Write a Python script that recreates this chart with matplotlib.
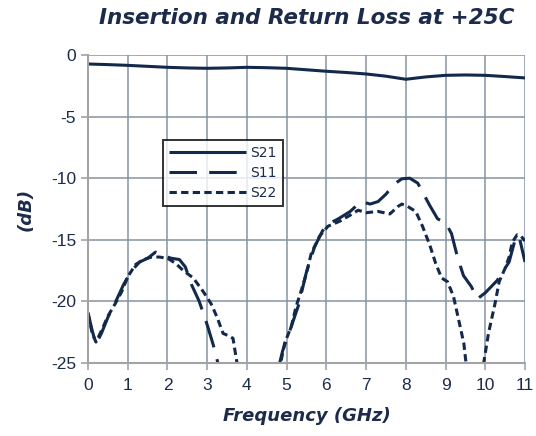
import matplotlib.pyplot as plt
from matplotlib.ticker import MultipleLocator

plt.rcParams['axes.unicode_minus'] = False

navy = '#13294b'
text_c = '#1c2b4a'
grid_c = '#8593a3'
spine_c = '#a3a3a3'

# S21 insertion loss
s21_f = [0, 0.5, 1, 1.5, 2, 2.5, 3, 3.5, 4, 4.5, 5, 5.5, 6, 6.5, 7, 7.5, 8, 8.5, 9, 9.5, 10, 10.5, 11]
s21_db = [-0.73, -0.78, -0.84, -0.92, -1.0, -1.05, -1.08, -1.05, -1.0, -1.03, -1.08, -1.2, -1.32,
          -1.42, -1.54, -1.72, -1.97, -1.78, -1.65, -1.62, -1.65, -1.75, -1.86]

# S11 input return loss
s11_f = [0, 0.1, 0.2, 0.35, 0.5, 0.7, 0.9, 1.1, 1.3, 1.5, 1.7, 1.9, 2.1, 2.3, 2.45, 2.6, 2.8, 3.0,
         3.15, 3.35, 4.75, 4.9, 5.1, 5.3, 5.5, 5.7, 5.9, 6.0, 6.3, 6.6, 6.8, 6.9, 7.1, 7.3, 7.5,
         7.7, 7.9, 8.1, 8.3, 8.6, 8.8, 9.0, 9.15, 9.3, 9.45, 9.65, 9.8, 10.0, 10.3, 10.6, 10.75,
         10.85, 11.0]
s11_db = [-20.9, -22.3, -23.5, -22.5, -21.3, -20.0, -18.6, -17.5, -16.8, -16.5, -16.0, -16.3, -16.5,
          -16.6, -17.2, -18.6, -20.0, -21.9, -23.5, -26.0, -26.0, -24.0, -22.2, -20.3, -17.6, -15.6,
          -14.3, -13.8, -13.3, -12.7, -12.1, -11.9, -12.1, -11.9, -11.3, -10.5, -10.05, -10.0, -10.4,
          -12.2, -13.3, -13.6, -14.5, -16.4, -17.9, -18.8, -19.8, -19.3, -18.3, -16.8, -15.0, -14.7,
          -16.8]

# S22 output return loss
s22_f = [0, 0.1, 0.2, 0.35, 0.5, 0.7, 0.85, 1.0, 1.2, 1.4, 1.6, 1.8, 2.0, 2.2, 2.4, 2.65, 2.9,
         3.1, 3.25, 3.4, 3.55, 3.65, 3.8, 4.75, 4.85, 4.95, 5.12, 5.24, 5.37, 5.5, 5.62, 5.83, 6.04,
         6.33, 6.6, 6.8, 7.0, 7.3, 7.6, 7.8, 7.9, 8.05, 8.25, 8.42, 8.6, 8.75, 8.9, 9.05, 9.2, 9.33,
         9.46, 9.55, 9.9, 9.96, 10.08, 10.25, 10.35, 10.5, 10.6, 10.68, 10.8, 10.9, 11.0]
s22_db = [-21.0, -22.5, -23.3, -22.3, -21.2, -20.1, -19.2, -18.0, -17.0, -16.6, -16.4, -16.4, -16.5,
          -16.9, -17.5, -18.1, -19.2, -20.2, -21.3, -22.6, -22.8, -23.0, -26.0, -26.0, -25.0, -23.4,
          -22.0, -20.4, -19.1, -17.7, -16.1, -14.7, -13.9, -13.5, -13.0, -12.6, -12.8, -12.7, -12.9,
          -12.3, -12.1, -12.3, -12.7, -13.9, -15.4, -16.9, -18.1, -18.4, -19.6, -21.5, -23.4, -26.0,
          -26.0, -25.0, -22.6, -20.1, -18.4, -17.3, -16.4, -15.2, -14.6, -14.7, -15.1]

fig = plt.figure(figsize=(5.36, 4.36), dpi=100)
ax = fig.add_axes([88 / 536, 1 - 363 / 436, 437 / 536, 308 / 436])

ax.plot(s21_f, s21_db, color=navy, lw=2.2, label='S21', solid_capstyle='butt')
ax.plot(s11_f, s11_db, color=navy, lw=2.2, label='S11', dashes=(9, 4))
ax.plot(s22_f, s22_db, color=navy, lw=2.2, label='S22', dashes=(2.4, 1.4))

ax.set_xlim(0, 11)
ax.set_ylim(-25, 0)
ax.xaxis.set_major_locator(MultipleLocator(1))
ax.yaxis.set_major_locator(MultipleLocator(5))
ax.grid(True, color=grid_c, lw=1.1)
ax.set_axisbelow(True)

for side in ['top', 'right']:
    ax.spines[side].set_visible(False)
for side in ['left', 'bottom']:
    ax.spines[side].set_color(spine_c)
    ax.spines[side].set_linewidth(1.5)
ax.tick_params(axis='both', colors=spine_c, labelcolor=text_c, labelsize=12.5,
               length=5, width=1.2, direction='out')
ax.tick_params(axis='x', pad=6)
for lbl in ax.get_xticklabels() + ax.get_yticklabels():
    lbl.set_fontfamily('Liberation Sans')

ax.set_xlabel('Frequency (GHz)', fontsize=13, fontweight='bold', fontstyle='italic',
              color=text_c, labelpad=10)
ax.set_ylabel('(dB)', fontsize=13, fontweight='bold', fontstyle='italic',
              color=text_c, labelpad=12)
ax.set_title('Insertion and Return Loss at +25C', fontsize=15.5, fontweight='bold',
             fontstyle='italic', color=text_c, pad=22)

leg = ax.legend(loc='upper left', bbox_to_anchor=((163 - 88) / 437, (363 - 140) / 308),
                borderaxespad=0, frameon=True, fancybox=False, fontsize=10,
                handlelength=5.6, labelspacing=0.45, borderpad=0.4, handletextpad=0.3)
leg.get_frame().set_edgecolor('black')
leg.get_frame().set_linewidth(1.4)
for t in leg.get_texts():
    t.set_color(text_c)

fig.savefig('out.png', dpi=100, facecolor='white')
